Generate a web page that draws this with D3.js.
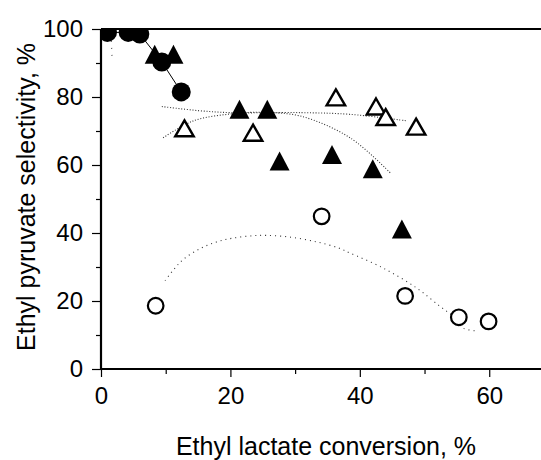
<!DOCTYPE html>
<html>
<head>
<meta charset="utf-8">
<script src="https://cdn.jsdelivr.net/npm/d3@7"></script>
<style>
  body { margin: 0; background: #fff; }
  svg { display: block; font-family: Arial, "Liberation Sans", sans-serif; }
</style>
</head>
<body>
<div id="chart"></div>
<script>
// conversion %, selectivity %
const filledCircles = [[1.0, 99], [4.2, 99], [6.0, 98.5], [9.4, 90.3], [12.4, 81.5]];
const filledTriangles = [[8.3, 92.6], [11.2, 92.6], [21.4, 76.4], [25.7, 76.4], [27.6, 61.2], [35.7, 63.1], [42.0, 58.9], [46.5, 41.2]];
const openTriangles = [[12.9, 70.8], [23.5, 69.5], [36.3, 79.9], [42.5, 77.2], [44.0, 74.1], [48.7, 71.3]];
const openCircles = [[8.45, 18.6], [34.1, 44.9], [47.0, 21.5], [55.3, 15.2], [59.9, 14.0]];

// fitted trend curves
const fitNearOrigin = [[1.6, 96.5], [1.7, 92]];
const fitOpenTri = [[9.4, 77.2], [15, 76], [20, 75.4], [31, 75.4], [38.5, 74.9], [47.2, 73]];
const fitFilledTri = [[9.6, 68], [14.3, 73], [20, 75], [25, 75.5], [31, 74.3], [38.5, 68], [44.7, 57.7]];
const fitOpenCirc = [[9.9, 26], [11.3, 29.4], [12.7, 32.2], [15.3, 35.4], [17.9, 37.4], [20.4, 38.5], [23.5, 39.2],
  [25.6, 39.3], [29.2, 38.8], [33.3, 37.4], [36.7, 35.6], [38.5, 34.1], [43.6, 29.7], [48.8, 23.8], [52.4, 18.4],
  [54.5, 15.4], [56, 12], [58.1, 11.2]];

const xMajor = [0, 20, 40, 60];
const xMinor = [10, 30, 50];
const yMajor = [0, 20, 40, 60, 80, 100];
const yMinor = [10, 30, 50, 70, 90];

const W = 541, H = 460;
const mLeft = 101, mRight = 541, mTop = 29, mBottom = 369;

const x = d3.scaleLinear().domain([0, 68]).range([mLeft, mRight]);
const y = d3.scaleLinear().domain([0, 100]).range([mBottom, mTop]);

const svg = d3.select('#chart').append('svg')
  .attr('width', W).attr('height', H);

svg.append('defs').append('clipPath').attr('id', 'plot')
  .append('rect').attr('x', mLeft).attr('y', mTop)
  .attr('width', mRight - mLeft).attr('height', mBottom - mTop);

const plot = svg.append('g').attr('clip-path', 'url(#plot)');

let line = d3.line().x(d => x(d[0])).y(d => y(d[1])).curve(d3.curveCatmullRom);

// trend lines
plot.append('path').attr('d', line(fitNearOrigin))
  .attr('fill', 'none').attr('stroke', '#555').attr('stroke-width', 1.2).attr('stroke-dasharray', '1,6');
plot.append('path').attr('d', line(fitOpenTri))
  .attr('fill', 'none').attr('stroke', '#333').attr('stroke-width', 1.1).attr('stroke-dasharray', '1,1.8');
plot.append('path').attr('d', line(fitFilledTri))
  .attr('fill', 'none').attr('stroke', '#333').attr('stroke-width', 1.1).attr('stroke-dasharray', '1,1.8');
plot.append('path').attr('d', line(fitOpenCirc))
  .attr('fill', 'none').attr('stroke', '#333').attr('stroke-width', 1.1).attr('stroke-dasharray', '1,4');
plot.append('path').attr('d', d3.line().x(d => x(d[0])).y(d => y(d[1]))(filledCircles))
  .attr('fill', 'none').attr('stroke', '#000').attr('stroke-width', 1);

let triPath = function (w, h) {
  return `M0,${-h / 2}L${w / 2},${h / 2}L${-w / 2},${h / 2}Z`;
};

// markers
plot.selectAll('.fc').data(filledCircles).enter().append('circle')
  .attr('cx', d => x(d[0])).attr('cy', d => y(d[1])).attr('r', 9.5)
  .attr('fill', '#000');
plot.selectAll('.oc').data(openCircles).enter().append('circle')
  .attr('cx', d => x(d[0])).attr('cy', d => y(d[1])).attr('r', 7.8)
  .attr('fill', '#fff').attr('stroke', '#000').attr('stroke-width', 2.2);
plot.selectAll('.ft').data(filledTriangles).enter().append('path')
  .attr('d', triPath(20, 19))
  .attr('transform', d => `translate(${x(d[0])},${y(d[1])})`)
  .attr('fill', '#000');
plot.selectAll('.ot').data(openTriangles).enter().append('path')
  .attr('d', triPath(18.5, 16))
  .attr('transform', d => `translate(${x(d[0])},${y(d[1])})`)
  .attr('fill', '#fff').attr('stroke', '#000').attr('stroke-width', 2.4)
  .attr('stroke-linejoin', 'miter');

// axes
let xAxis = svg.append('g').attr('transform', `translate(0,${mBottom})`);
xAxis.call(d3.axisBottom(x).tickValues(xMajor).tickSize(8).tickPadding(10).tickFormat(d3.format('d')));
svg.append('g').attr('transform', `translate(0,${mBottom})`)
  .call(d3.axisBottom(x).tickValues(xMinor).tickSize(5).tickFormat(''))
  .select('.domain').remove();

let yAxis = svg.append('g').attr('transform', `translate(${mLeft},0)`);
yAxis.call(d3.axisLeft(y).tickValues(yMajor).tickSize(9).tickPadding(9).tickFormat(d3.format('d')));
svg.append('g').attr('transform', `translate(${mLeft},0)`)
  .call(d3.axisLeft(y).tickValues(yMinor).tickSize(5).tickFormat(''))
  .select('.domain').remove();

svg.selectAll('.tick line').attr('stroke', '#000').attr('stroke-width', 1.2);
svg.selectAll('.tick text').attr('font-size', 24).attr('fill', '#000')
  .attr('font-family', 'Arial, "Liberation Sans", sans-serif');
xAxis.select('.domain').attr('d', `M${mLeft},0H${mRight}`).attr('stroke-width', 2.2);
yAxis.select('.domain').attr('d', `M0,${mBottom}V${mTop}`).attr('stroke-width', 2.2);

// top frame line
svg.append('line').attr('x1', mLeft).attr('x2', mRight).attr('y1', mTop).attr('y2', mTop)
  .attr('stroke', '#000').attr('stroke-width', 2.2);

// titles
svg.append('text').attr('x', 326).attr('y', 455).attr('text-anchor', 'middle')
  .attr('font-size', 25).text('Ethyl lactate conversion, %');
svg.append('text').attr('transform', 'translate(35,197) rotate(-90)').attr('text-anchor', 'middle')
  .attr('font-size', 25).text('Ethyl pyruvate selectivity, %');
</script>
</body>
</html>
